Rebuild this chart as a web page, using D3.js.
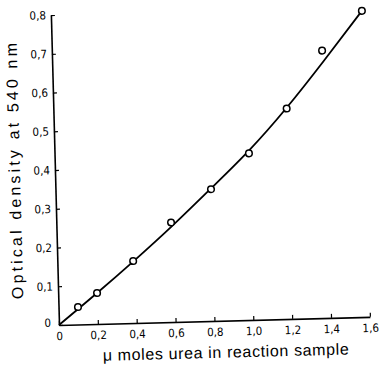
<!DOCTYPE html>
<html><head><meta charset="utf-8">
<script src="https://cdn.jsdelivr.net/npm/d3@7"></script>
<style>body{margin:0;background:#fff}svg{display:block}</style>
</head><body>
<svg id="c" width="383" height="371"></svg>
<script>
// Data
const pointX = [0.1, 0.2, 0.39, 0.59, 0.8, 1.0, 1.2, 1.39, 1.6];
const pointY = [0.045, 0.08, 0.16, 0.257, 0.34, 0.43, 0.543, 0.69, 0.79];
const fitX = [0, 0.2, 0.4, 0.6, 0.8, 1.0, 1.2, 1.4, 1.6];
const fitY = [0, 0.08, 0.163, 0.25, 0.342, 0.437, 0.545, 0.665, 0.79];
const xTicks = [0, 0.2, 0.4, 0.6, 0.8, 1.0, 1.2, 1.4, 1.6];
const yTicks = [0, 0.1, 0.2, 0.3, 0.4, 0.5, 0.6, 0.7, 0.8];
const xTitle = "\u03bc moles urea in reaction sample";
const yTitle = "Optical density at 540 nm";

const svg = d3.select("#c");
const ox = 59, oy = 325;
const x = d3.scaleLinear().domain([0, 1.6]).range([ox, ox + 311]);
const y = d3.scaleLinear().domain([0, 0.8]).range([oy, 15]);
const fmt = d => d === 0 ? "0" : d.toFixed(1).replace(".", ",");
const font = "'DejaVu Sans Condensed', 'DejaVu Sans', sans-serif";
const tfont = "'Liberation Sans', Arial, sans-serif";

const g = svg.append("g").attr("transform", `rotate(-1.5, ${ox}, ${oy})`);

const xa = g.append("g").attr("transform", `translate(0,${oy})`)
  .call(d3.axisBottom(x).tickValues(xTicks).tickFormat(fmt).tickSizeInner(-4).tickSizeOuter(0).tickPadding(7));
const ya = g.append("g").attr("transform", `translate(${ox},0)`)
  .call(d3.axisLeft(y).tickValues(yTicks).tickFormat(fmt).tickSizeInner(-4).tickSizeOuter(0).tickPadding(5));
[xa, ya].forEach(a => {
  a.select(".domain").attr("stroke", "#000").attr("stroke-width", 1.6);
  a.selectAll(".tick line").attr("stroke", "#000").attr("stroke-width", 1.2);
  a.selectAll(".tick text").attr("fill", "#000").style("font-family", font).style("font-size", "11.5px");
});
ya.selectAll(".tick").filter(d => d === 0).select("text").attr("dy", "0.1em").attr("x", -8);

const line = d3.line().x(d => x(d[0])).y(d => y(d[1])).curve(d3.curveNatural);
g.append("path").datum(fitX.map((v, i) => [v, fitY[i]]))
  .attr("d", line).attr("fill", "none").attr("stroke", "#000").attr("stroke-width", 1.8);

g.selectAll("circle.pt").data(pointX.map((v, i) => [v, pointY[i]])).enter()
  .append("circle").attr("class", "pt")
  .attr("cx", d => x(d[0])).attr("cy", d => y(d[1])).attr("r", 3.3)
  .attr("fill", "#fff").attr("stroke", "#000").attr("stroke-width", 1.5);

g.append("text").attr("x", 225).attr("y", 362).attr("text-anchor", "middle")
  .attr("textLength", 246).attr("lengthAdjust", "spacing")
  .style("font-family", tfont).style("font-size", "16px").text(xTitle);
g.append("text").attr("transform", "translate(24,170) rotate(-90)").attr("text-anchor", "middle")
  .attr("textLength", 256).attr("lengthAdjust", "spacing")
  .style("font-family", tfont).style("font-size", "16px").text(yTitle);
</script>
</body></html>
